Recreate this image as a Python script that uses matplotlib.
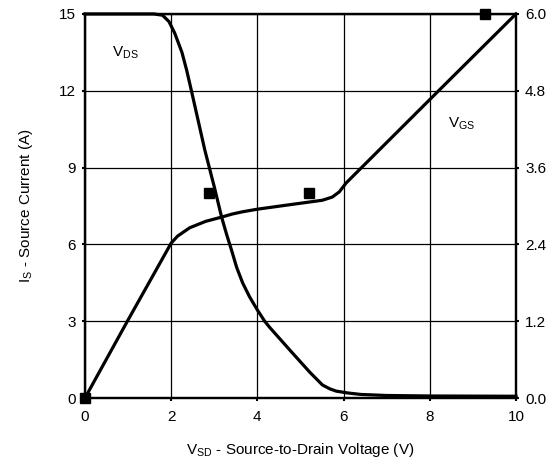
import matplotlib
matplotlib.use("Agg")
import matplotlib.pyplot as plt

plt.rcParams['font.family'] = ['Liberation Sans', 'DejaVu Sans']

# V_DS curve (left axis units)
vds_x = [0, 1.6, 1.8, 1.95, 2.08, 2.25, 2.36, 2.47, 2.78, 3.0, 3.17, 3.29, 3.40,
         3.52, 3.66, 3.82, 4.0, 4.17, 4.28, 4.75, 5.21, 5.51, 5.68, 5.83, 6.09,
         6.4, 7.0, 8.0, 10.0]
vds_y = [15, 15, 14.95, 14.7, 14.26, 13.5, 12.8, 12.0, 9.69, 8.25, 7.07, 6.37, 5.78,
         5.1, 4.49, 3.95, 3.44, 3.0, 2.77, 1.88, 1.02, 0.51, 0.36, 0.27, 0.2,
         0.14, 0.1, 0.08, 0.07]

# V_GS curve (right axis units, volts)
vgs_x = [0, 1.0, 2.0, 2.15, 2.43, 2.8, 3.19, 3.42, 3.66, 4.0, 4.75, 5.51, 5.74, 5.9,
         6.06, 8.22, 10.0]
vgs_y = [0, 1.22, 2.42, 2.53, 2.66, 2.76, 2.83, 2.875, 2.91, 2.95, 3.02, 3.09, 3.14, 3.22,
         3.36, 4.81, 6.0]

# square markers (left axis units)
mk_x = [0, 2.87, 5.19, 9.28]
mk_y = [0, 8.0, 8.0, 15.0]

x_ticks = [0, 2, 4, 6, 8, 10]
left_ticks = [0, 3, 6, 9, 12, 15]
right_ticks = [0.0, 1.2, 2.4, 3.6, 4.8, 6.0]

fig = plt.figure(figsize=(5.59, 4.65), dpi=100)
ax = fig.add_axes([0.152, 0.144, 0.771, 0.826])
ax2 = ax.twinx()

ax.plot(vds_x, vds_y, color='black', lw=2.3, solid_joinstyle='round', zorder=4, clip_on=False)
ax2.plot(vgs_x, vgs_y, color='black', lw=2.3, solid_joinstyle='round', zorder=4, clip_on=False)
ax.plot(mk_x, mk_y, linestyle='none', marker='s', markersize=7, color='black', zorder=5, clip_on=False)

ax.set_xlim(0, 10)
ax.set_ylim(0, 15)
ax2.set_ylim(0, 6)
ax.set_xticks(x_ticks)
ax.set_yticks(left_ticks)
ax2.set_yticks(right_ticks)
ax2.set_yticklabels([f"{v:.1f}" for v in right_ticks])

ax.grid(True, color='black', lw=0.9)
ax.set_axisbelow(True)

for a in (ax, ax2):
    for s in a.spines.values():
        s.set_linewidth(1.6)
    a.tick_params(direction='out', length=2.5, width=1.5, labelsize=11, pad=4)
ax.tick_params(axis='x', pad=6)

ax.text(0.93, 13.5, r'V$_{\mathregular{DS}}$', fontsize=11, ha='center', va='center')
ax.text(8.73, 10.7, r'V$_{\mathregular{GS}}$', fontsize=11, ha='center', va='center')

ax.set_ylabel(r'I$_{\mathregular{S}}$ - Source Current (A)', fontsize=11, labelpad=17)
ax.set_xlabel(r'V$_{\mathregular{SD}}$ - Source-to-Drain Voltage (V)', fontsize=11, labelpad=12)

fig.savefig('out.png', dpi=100)
